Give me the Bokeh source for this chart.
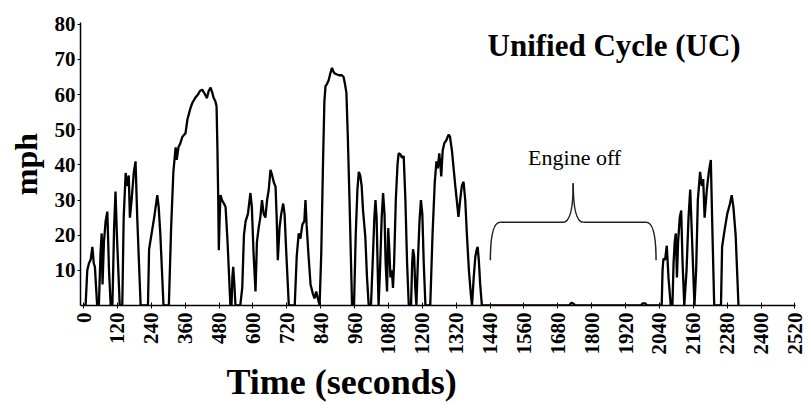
import math
import numpy as np
from bokeh.plotting import figure
from bokeh.models import Range1d, FixedTicker, Label, Title
from bokeh.embed import file_html
from bokeh.resources import INLINE

# ---- data (time in s, speed in mph) ----
cold_t = [0, 7, 13, 19, 25, 31, 36, 40, 48, 54, 60, 64, 67, 72, 78, 84, 90, 96,
          102, 108, 113, 118, 128, 137, 142, 149, 154, 160, 164, 170, 178, 184, 190, 202,
          228, 232, 240, 250, 261, 266, 272, 283,
          302, 310, 318, 326, 330, 336, 342, 350, 361, 368, 378, 385, 395, 405, 412, 420,
          427, 437, 443, 450, 456, 461, 467, 471, 474, 477, 479, 482, 485, 490, 497, 503,
          510, 520, 524, 527, 530, 534, 538,
          555, 562, 568, 574, 582, 591, 596, 602, 609, 614, 620, 626, 632, 638, 644, 650,
          656, 662, 668, 674, 680, 684, 688, 694, 700, 707, 712, 718, 727,
          748, 755, 762, 768, 775, 782, 786, 790, 797, 804, 812, 818, 824, 830, 836,
          842, 848, 853, 857, 862, 868, 874, 880, 885, 890, 898, 905, 915, 921, 926, 931,
          936, 942, 948, 951,
          958, 964, 970, 975, 980, 985, 990, 998, 1004, 1010,
          1018, 1024, 1030, 1034, 1038, 1042, 1045, 1050, 1056, 1061, 1066, 1070, 1075,
          1079, 1083, 1087, 1092, 1096, 1100, 1106, 1112, 1116, 1122, 1128, 1134, 1140,
          1146, 1152, 1160, 1164, 1167, 1171, 1175, 1179, 1184, 1190, 1195, 1200, 1205, 1211,
          1228, 1236, 1244, 1250, 1255, 1260, 1264, 1267, 1272, 1278, 1285, 1293, 1298,
          1305, 1312, 1318, 1322, 1328, 1334, 1340, 1346, 1352, 1358, 1365, 1372, 1376,
          1382, 1388, 1393, 1396, 1400, 1405, 1411]
cold_v = [0, 0, 10, 12, 13, 16.7, 12, 11, 0, 0, 15, 20.5, 6, 18, 24, 26.7, 10, 0,
          0, 22, 32.4, 20, 0, 0, 25, 37.7, 34, 37, 25, 30, 38, 41, 25, 0,
          0, 16, 20, 25, 31.4, 28, 20, 0,
          0, 22, 38, 45, 41.4, 45, 46, 48, 49, 53, 56, 57.6, 59, 60, 61, 61.4,
          60.5, 59, 61, 62, 60.5, 59, 58, 56.7, 45, 30, 15.7, 25, 31.4, 30, 29, 28,
          18, 0, 0, 8, 11, 6, 0,
          0, 5, 20, 24, 26, 32, 28, 15, 4, 18, 22, 25, 30, 26, 25, 30,
          33, 38.6, 37, 35, 33.8, 25, 12.9, 22, 26, 29, 26, 15, 0,
          0, 14, 20.5, 19, 23, 24, 30, 23, 14, 6, 3.4, 2, 4, 2, 0,
          15, 40, 58, 62.4, 63, 64, 66, 67.6, 66.5, 66, 65.7, 65.5, 65.5, 65, 63, 60.5,
          48, 30, 10, 0,
          0, 20, 33, 38, 37, 34, 27, 19.5, 8, 0,
          0, 12, 25, 30, 25, 10, 0, 10, 25, 32, 26, 12, 4,
          22, 16, 8, 10, 5, 12, 30, 40, 43.3, 43, 42, 42.5, 30,
          12, 0, 0, 12, 16, 14, 5, 0, 12, 24, 30, 26, 12, 0,
          0, 20, 35, 41, 39, 43.3, 40, 36.7, 44, 46.2, 47, 48.6, 48,
          44, 38, 33, 30, 25.2, 30, 34, 35.2, 30, 20, 10, 3, 0,
          8, 14, 16, 16.7, 13, 6, 0]

off_t = [1430, 1720, 1728, 1736, 1742, 1975, 1980, 1990, 1995, 2040]
off_v = [0, 0, 0.8, 0.5, 0, 0, 0.6, 0.6, 0, 0]

hot_t = [2048, 2051, 2054, 2060, 2066, 2072, 2080, 2086, 2090, 2094, 2098, 2102,
         2106, 2112, 2117, 2122, 2128, 2136, 2143, 2149, 2155, 2164, 2170, 2176, 2184,
         2190, 2195, 2200, 2208, 2215, 2222, 2228, 2234, 2258, 2262, 2270, 2280, 2290,
         2296, 2302, 2310, 2320]
hot_v = [0, 10, 13.3, 13, 17, 8, 0, 0, 12, 18, 20.5, 8,
         18, 25, 27, 12, 0, 10, 25, 33, 20, 0, 10, 30, 38,
         34, 36, 25, 33, 38, 41.4, 20, 0, 0, 16.7, 21, 26, 29,
         31.4, 28, 20, 0]

x_ticks = list(range(0, 2521, 120))
y_ticks = [10, 20, 30, 40, 50, 60, 70, 80]

title_text = "Unified Cycle (UC)"
note_text = "Engine off"
brace_left, brace_right = 1441, 2028
brace_low, brace_level, brace_tip = 12.9, 23.7, 34.8

SERIF = "Liberation Serif"

t = np.array(cold_t + off_t + hot_t, dtype=float)
v = np.array(cold_v + off_v + hot_v, dtype=float)

p = figure(width=809, height=405, output_backend="svg", toolbar_location=None,
           x_range=Range1d(-11, 2522), y_range=Range1d(0, 80.5),
           min_border_left=80, min_border_right=14, min_border_top=22,
           min_border_bottom=100, outline_line_color=None)
p.xgrid.visible = False
p.ygrid.visible = False

p.line(t, v, line_color="black", line_width=2.3)

# brace annotation
mid = (brace_left + brace_right) / 2
cw, tw = 35, 36
p.quadratic(x0=[brace_left, mid - tw, mid, brace_right - cw],
            y0=[brace_low, brace_level, brace_tip, brace_level],
            x1=[brace_left + cw, mid, mid + tw, brace_right],
            y1=[brace_level, brace_tip, brace_level, brace_low],
            cx=[brace_left, mid, mid, brace_right],
            cy=[brace_level, brace_level, brace_level, brace_level],
            line_color="#222222", line_width=1.5)
p.segment(x0=[brace_left + cw, mid + tw], y0=[brace_level, brace_level],
          x1=[mid - tw, brace_right - cw], y1=[brace_level, brace_level],
          line_color="#222222", line_width=1.5)

p.add_layout(Label(x=1431, y=74, text=title_text, text_font=SERIF,
                   text_font_style="bold", text_font_size="31px",
                   text_baseline="middle", text_align="left", text_color="black"))
p.add_layout(Label(x=mid + 5, y=42, text=note_text, text_font=SERIF,
                   text_font_size="22px", text_baseline="middle",
                   text_align="center", text_color="black"))

# axes
xa = p.xaxis[0]
xa.ticker = FixedTicker(ticks=x_ticks)
xa.major_label_orientation = math.pi / 2
xa.major_label_text_font = SERIF
xa.major_label_text_font_style = "bold"
xa.major_label_text_font_size = "21px"
xa.major_label_text_color = "black"
xa.major_label_standoff = 4
xa.minor_tick_line_color = None
xa.major_tick_in = 3
xa.major_tick_out = 3
xa.axis_line_width = 1.5
xa.axis_line_color = "black"
xa.major_tick_line_color = "black"

ya = p.yaxis[0]
ya.ticker = FixedTicker(ticks=y_ticks)
ya.major_label_text_font = SERIF
ya.major_label_text_font_style = "bold"
ya.major_label_text_font_size = "21px"
ya.major_label_text_color = "black"
ya.major_label_standoff = 2
ya.minor_tick_line_color = None
ya.major_tick_in = 0
ya.major_tick_out = 3
ya.axis_line_width = 1.5
ya.axis_line_color = "black"
ya.major_tick_line_color = "black"
ya.axis_label = "mph"
ya.axis_label_text_font = SERIF
ya.axis_label_text_font_style = "bold"
ya.axis_label_text_font_size = "32px"
ya.axis_label_text_color = "black"
ya.axis_label_standoff = 8

p.add_layout(Title(text="Time (seconds)", align="left", offset=146,
                   text_font=SERIF, text_font_style="bold", text_color="black",
                   text_font_size="36px", standoff=4), "below")

open("out.html", "w").write(file_html(p, INLINE))
